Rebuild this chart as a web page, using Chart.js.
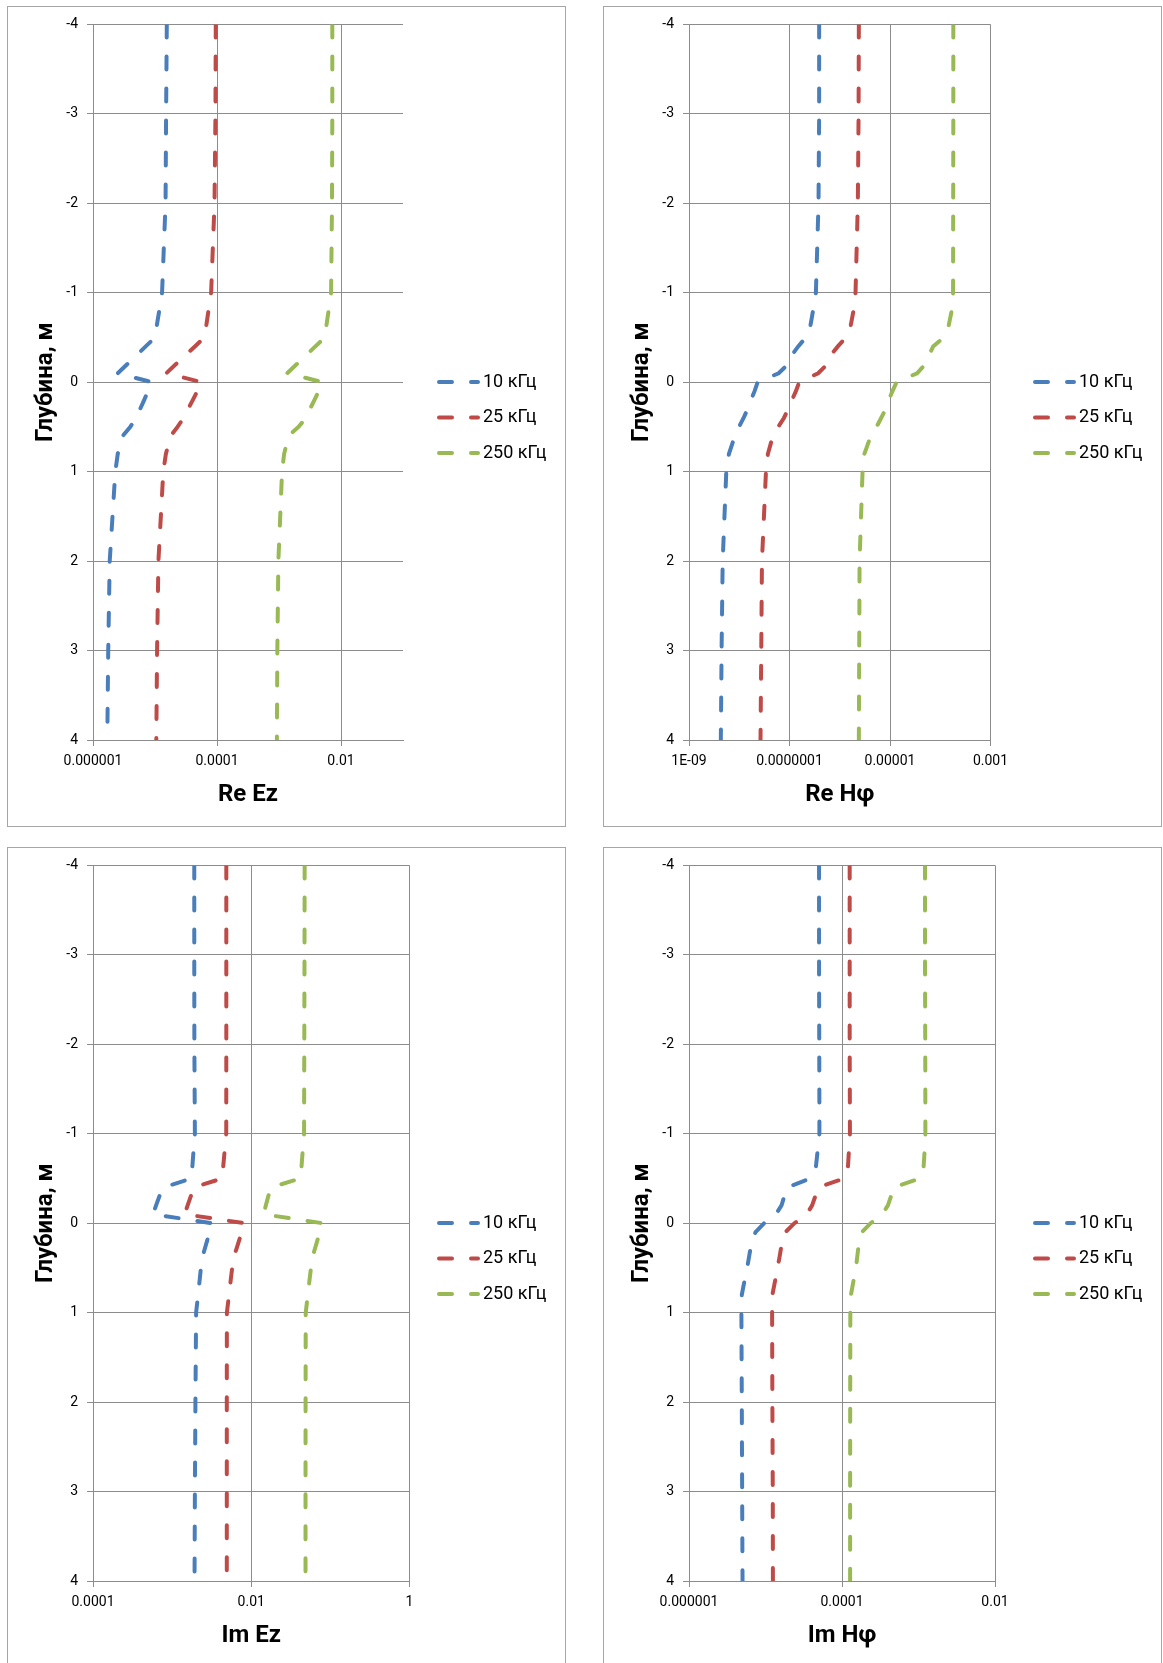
<!DOCTYPE html>
<html lang="ru">
<head>
<meta charset="UTF-8">
<title>Глубина – Ez, Hφ</title>
<script src="https://cdn.jsdelivr.net/npm/chart.js"></script>
<style>
    html, body { margin: 0; padding: 0; background: #fff; }
    body { width: 1163px; height: 1663px; overflow: hidden; position: relative; }
    .panel { position: absolute; width: 559px; height: 821px; box-sizing: border-box; border: 1px solid #a6a6a6; background: #fff; }
    .panel canvas { display: block; }
</style>
</head>
<body>
<div class="panel" style="left:7px; top:6px;"><canvas id="ReEz" width="557" height="819"></canvas></div>
<div class="panel" style="left:603px; top:6px;"><canvas id="ReH" width="557" height="819"></canvas></div>
<div class="panel" style="left:7px; top:847px;"><canvas id="ImEz" width="557" height="819"></canvas></div>
<div class="panel" style="left:603px; top:847px;"><canvas id="ImH" width="557" height="819"></canvas></div>

<script>
// depth, m (same for every series)
const depth = [-4, -3, -2, -1, -0.8, -0.6, -0.5, -0.4, -0.3, -0.2, -0.1, 0,
               0.1, 0.2, 0.3, 0.4, 0.5, 0.6, 0.8, 1, 2, 3, 4];

const freqLabels = ['10 кГц', '25 кГц', '250 кГц'];

// Re Ez
const reEz10 = [1.55e-5, 1.51e-5, 1.48e-5, 1.30e-5, 1.17e-5, 1.05e-5, 1.0e-5, 7.08e-6, 5.01e-6, 3.55e-6, 2.51e-6, 8.91e-6,
                7.71e-6, 6.68e-6, 5.75e-6, 5.0e-6, 3.98e-6, 3.02e-6, 2.51e-6, 2.29e-6, 1.86e-6, 1.76e-6, 1.70e-6];
const reEz25 = [9.55e-5, 9.44e-5, 9.12e-5, 8.04e-5, 7.28e-5, 6.61e-5, 6.27e-5, 4.40e-5, 3.09e-5, 2.16e-5, 1.52e-5, 5.70e-5,
                4.81e-5, 4.06e-5, 3.42e-5, 2.88e-5, 2.31e-5, 1.79e-5, 1.50e-5, 1.36e-5, 1.135e-5, 1.08e-5, 1.05e-5];
const reEz250 = [7.24e-3, 7.24e-3, 7.16e-3, 6.92e-3, 6.30e-3, 5.73e-3, 5.47e-3, 3.86e-3, 2.72e-3, 1.92e-3, 1.355e-3, 5.08e-3,
                 4.37e-3, 3.72e-3, 3.16e-3, 2.72e-3, 2.06e-3, 1.43e-3, 1.21e-3, 1.12e-3, 9.77e-4, 9.4e-4, 9.25e-4];

// Re Hφ
const reH10 = [3.89e-7, 3.89e-7, 3.78e-7, 3.35e-7, 2.94e-7, 2.55e-7, 2.12e-7, 1.49e-7, 1.10e-7, 9.29e-8, 6.07e-8, 2.32e-8,
               2.02e-8, 1.71e-8, 1.47e-8, 1.22e-8, 9.86e-9, 8.20e-9, 6.24e-9, 5.52e-9, 4.68e-9, 4.45e-9, 4.30e-9];
const reH25 = [2.40e-6, 2.37e-6, 2.29e-6, 2.06e-6, 1.88e-6, 1.61e-6, 1.32e-6, 9.16e-7, 6.55e-7, 5.62e-7, 3.72e-7, 1.56e-7,
               1.34e-7, 1.12e-7, 9.44e-8, 7.74e-8, 5.97e-8, 4.68e-8, 3.72e-8, 3.40e-8, 2.83e-8, 2.74e-8, 2.65e-8];
const reH250 = [1.82e-4, 1.82e-4, 1.81e-4, 1.80e-4, 1.69e-4, 1.43e-4, 1.175e-4, 7.21e-5, 6.0e-5, 4.99e-5, 3.46e-5, 1.35e-5,
                1.12e-5, 9.46e-6, 8.24e-6, 6.67e-6, 5.38e-6, 4.15e-6, 3.10e-6, 2.84e-6, 2.48e-6, 2.44e-6, 2.40e-6];

// Im Ez
const imEz10 = [1.905e-3, 1.905e-3, 1.91e-3, 1.94e-3, 1.86e-3, 1.79e-3, 1.74e-3, 7.76e-4, 6.90e-4, 6.27e-4, 5.74e-4, 3.21e-3,
                2.97e-3, 2.76e-3, 2.56e-3, 2.38e-3, 2.31e-3, 2.25e-3, 2.13e-3, 2.01e-3, 1.97e-3, 1.94e-3, 1.92e-3];
const imEz25 = [4.84e-3, 4.84e-3, 4.84e-3, 4.83e-3, 4.60e-3, 4.39e-3, 4.27e-3, 1.875e-3, 1.72e-3, 1.57e-3, 1.44e-3, 8.24e-3,
                7.59e-3, 6.98e-3, 6.43e-3, 5.92e-3, 5.74e-3, 5.56e-3, 5.24e-3, 4.92e-3, 4.91e-3, 4.91e-3, 4.91e-3];
const imEz250 = [0.0473, 0.0471, 0.0468, 0.0465, 0.0446, 0.0429, 0.0417, 0.0178, 0.0164, 0.0153, 0.01435, 0.0793,
                 0.0735, 0.0681, 0.0631, 0.0586, 0.0569, 0.0551, 0.0519, 0.0488, 0.0486, 0.0485, 0.0485];

// Im Hφ
const imH10 = [5.01e-5, 5.01e-5, 5.04e-5, 5.07e-5, 4.79e-5, 4.52e-5, 3.85e-5, 1.91e-5, 1.76e-5, 1.62e-5, 1.37e-5, 9.59e-6,
               7.41e-6, 6.61e-6, 6.31e-6, 6.03e-6, 5.75e-6, 5.43e-6, 4.90e-6, 4.84e-6, 4.90e-6, 4.95e-6, 5.01e-6];
const imH25 = [1.26e-4, 1.26e-4, 1.26e-4, 1.27e-4, 1.23e-4, 1.19e-4, 1.07e-4, 4.88e-5, 4.47e-5, 4.07e-5, 3.47e-5, 2.39e-5,
               1.82e-5, 1.66e-5, 1.58e-5, 1.51e-5, 1.435e-5, 1.365e-5, 1.23e-5, 1.22e-5, 1.23e-5, 1.245e-5, 1.25e-5];
const imH250 = [1.216e-3, 1.216e-3, 1.225e-3, 1.23e-3, 1.20e-3, 1.16e-3, 1.047e-3, 4.69e-4, 4.37e-4, 3.98e-4, 3.39e-4, 2.37e-4,
                1.82e-4, 1.68e-4, 1.62e-4, 1.57e-4, 1.52e-4, 1.445e-4, 1.31e-4, 1.285e-4, 1.28e-4, 1.277e-4, 1.277e-4];

// x axis ticks
const reEzTicks = [1e-6, 1e-4, 1e-2];
const reEzTickLabels = ['0.000001', '0.0001', '0.01'];
const reHTicks = [1e-9, 1e-7, 1e-5, 1e-3];
const reHTickLabels = ['1E-09', '0.0000001', '0.00001', '0.001'];
const imEzTicks = [1e-4, 1e-2, 1];
const imEzTickLabels = ['0.0001', '0.01', '1'];
const imHTicks = [1e-6, 1e-4, 1e-2];
const imHTickLabels = ['0.000001', '0.0001', '0.01'];

const colors = ['#4a7ebb', '#be4b48', '#98b954'];
const dash = [13, 19];
const gridColor = '#8c8c8c';

Chart.defaults.font.family = 'Roboto, "Open Sans", sans-serif';
Chart.defaults.color = '#000';

// legend drawn at the right side, like in the excel chart
const sideLegend = {
    id: 'sideLegend',
    afterDraw(chart) {
        const ctx = chart.ctx;
        chart.data.datasets.forEach((ds, i) => {
            const y = 375 + i * 35.5;
            ctx.save();
            ctx.strokeStyle = ds.borderColor;
            ctx.lineWidth = 4;
            ctx.lineCap = 'round';
            ctx.setLineDash(dash);
            ctx.beginPath();
            ctx.moveTo(431, y);
            ctx.lineTo(470, y);
            ctx.stroke();
            ctx.setLineDash([]);
            ctx.fillStyle = '#000';
            ctx.font = '18px Roboto';
            ctx.textBaseline = 'middle';
            ctx.fillText(ds.label, 475, y);
            ctx.restore();
        });
    }
};

function makeChart(id, series, xMin, xMax, ticks, tickLabels, title, plotRight) {
    const datasets = series.map((vals, i) => ({
        label: freqLabels[i],
        data: depth.map((d, k) => ({ x: vals[k], y: d })),
        showLine: true,
        borderColor: colors[i],
        backgroundColor: colors[i],
        borderWidth: 4,
        borderDash: dash,
        borderCapStyle: 'round',
        pointRadius: 0,
        tension: 0
    }));

    new Chart(document.getElementById(id), {
        type: 'scatter',
        data: { datasets: datasets },
        options: {
            responsive: false,
            animation: false,
            devicePixelRatio: 1,
            layout: { padding: { top: 16, left: 0, bottom: 0, right: 557 - plotRight } },
            plugins: { legend: { display: false }, tooltip: { enabled: false } },
            scales: {
                x: {
                    type: 'logarithmic',
                    position: 'bottom',
                    min: xMin,
                    max: xMax,
                    afterBuildTicks: (axis) => { axis.ticks = ticks.map(v => ({ value: v })); },
                    afterFit: (axis) => { axis.height = 86; },
                    ticks: {
                        autoSkip: false,
                        maxRotation: 0,
                        padding: 7,
                        font: { size: 14 },
                        callback: (value, index) => tickLabels[index]
                    },
                    grid: { color: gridColor, tickLength: 6, tickColor: gridColor },
                    border: { color: gridColor },
                    title: {
                        display: true,
                        text: title,
                        font: { size: 24, weight: 'bold' },
                        padding: { top: 0, bottom: 17 }
                    }
                },
                y: {
                    type: 'linear',
                    position: 'left',
                    reverse: true,
                    min: -4,
                    max: 4,
                    afterFit: (axis) => { axis.width = 85; },
                    ticks: { stepSize: 1, padding: 9, font: { size: 14 } },
                    grid: { color: gridColor, tickLength: 6, tickColor: gridColor },
                    border: { color: gridColor },
                    title: {
                        display: true,
                        text: 'Глубина, м',
                        font: { size: 24, weight: 'bold' },
                        padding: { top: 24, bottom: 0 }
                    }
                }
            }
        },
        plugins: [sideLegend]
    });
}

makeChart('ReEz', [reEz10, reEz25, reEz250], 1e-6, 0.1, reEzTicks, reEzTickLabels, 'Re Ez', 395);
makeChart('ReH', [reH10, reH25, reH250], 1e-9, 1e-3, reHTicks, reHTickLabels, 'Re Hφ', 386.5);
makeChart('ImEz', [imEz10, imEz25, imEz250], 1e-4, 1, imEzTicks, imEzTickLabels, 'Im Ez', 401.5);
makeChart('ImH', [imH10, imH25, imH250], 1e-6, 1e-2, imHTicks, imHTickLabels, 'Im Hφ', 391);
</script>
</body>
</html>
